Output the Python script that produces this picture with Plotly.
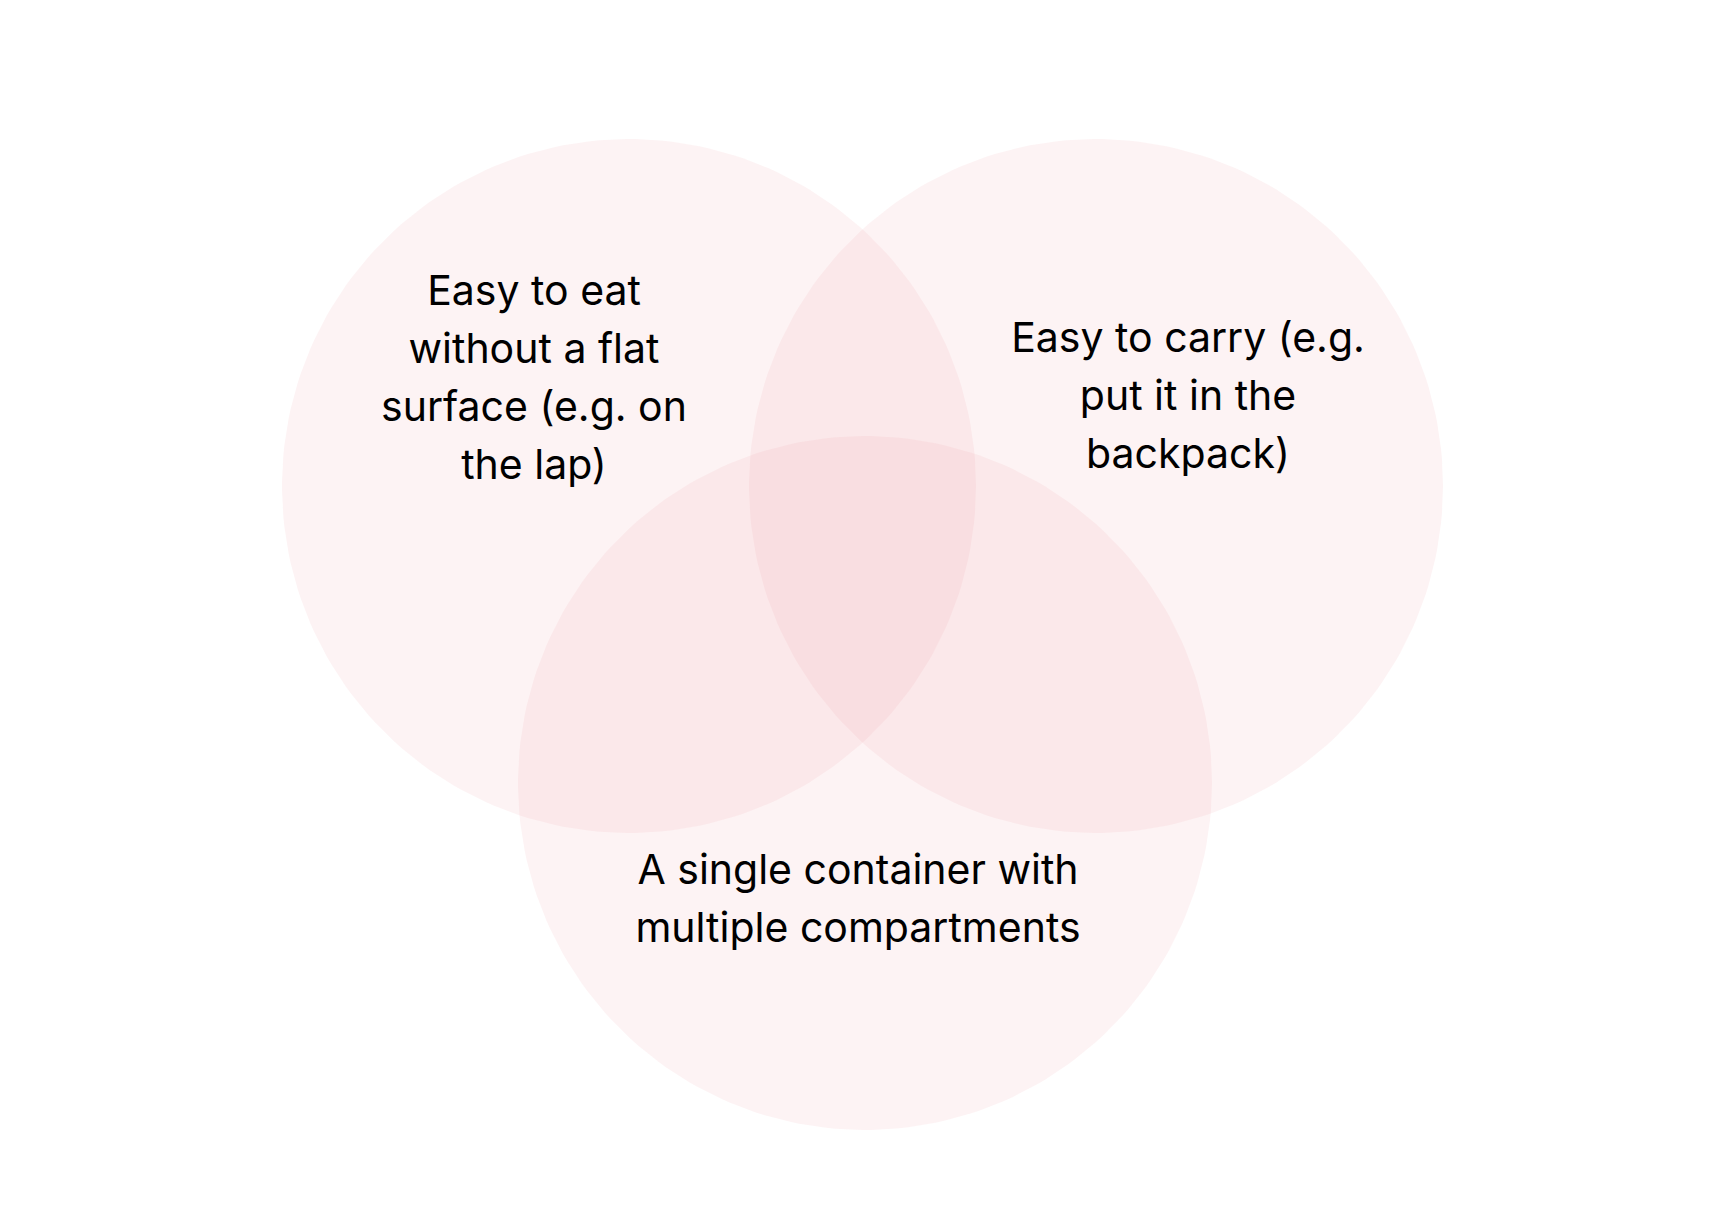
import numpy as np
import plotly.graph_objects as go

W, H = 1718, 1228

# --- DATA ---
set_labels = [
    ["Easy to eat", "without a flat", "surface (e.g. on", "the lap)"],
    ["Easy to carry (e.g.", "put it in the", "backpack)"],
    ["A single container with", "multiple compartments"],
]
circle_x = [621, 1088, 857]
circle_y = [478, 478, 775]
circle_r = [347, 347, 347]
label_x = [526, 1180, 850]
label_top_y = [287, 334, 866]
LINE_STEP = 58

fig = go.Figure()
t = np.linspace(0, 2 * np.pi, 240)
for cx, cy, r in zip(circle_x, circle_y, circle_r):
    fig.add_trace(go.Scatter(
        x=cx + r * np.cos(t), y=cy + r * np.sin(t),
        mode='lines', fill='toself', line=dict(width=0),
        fillcolor='rgba(240,160,165,0.12)', hoverinfo='skip', showlegend=False
    ))

for lines, lx, ly in zip(set_labels, label_x, label_top_y):
    fig.add_trace(go.Scatter(
        x=[lx] * len(lines), y=[ly + i * LINE_STEP for i in range(len(lines))],
        mode='text', text=lines,
        textfont=dict(family="Inter", size=41, color="black"),
        hoverinfo='skip', showlegend=False
    ))

fig.update_layout(
    width=W, height=H,
    margin=dict(l=0, r=0, t=0, b=0),
    plot_bgcolor='white', paper_bgcolor='white'
)
fig.update_xaxes(range=[0, W], visible=False)
fig.update_yaxes(range=[H, 0], visible=False)

fig.write_html("out.html")
